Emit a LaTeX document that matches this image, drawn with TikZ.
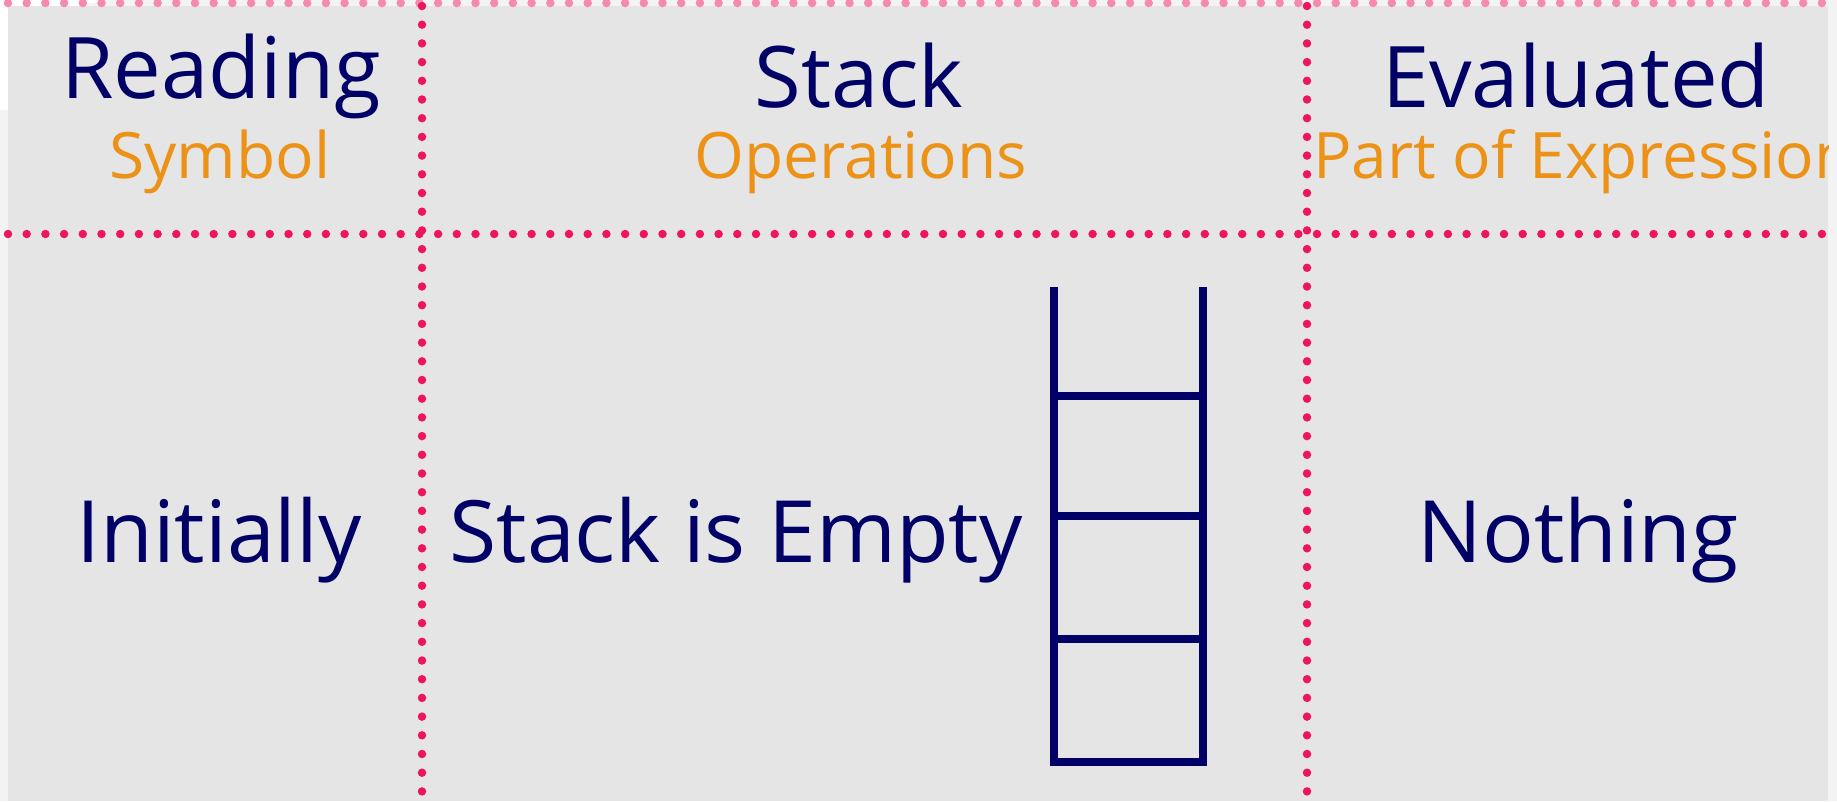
\documentclass[tikz,border=0pt]{standalone}
\usepackage{fontspec}
\setmainfont{Open Sans}
\definecolor{navy}{RGB}{0,0,102}
\definecolor{headorange}{RGB}{236,146,22}
\definecolor{dotpink}{RGB}{236,22,92}
\definecolor{panelgrey}{RGB}{229,229,229}
\definecolor{outergrey}{RGB}{243,243,243}
\tikzset{
  dotline/.style={draw=dotpink, line width=8.5pt, line cap=round, dash pattern=on 0pt off 18.7pt},
  headtxt/.style={text=navy, inner sep=0pt, anchor=base, font=\fontsize{85}{95}\selectfont},
  subtxt/.style={text=headorange, inner sep=0pt, anchor=base, font=\fontsize{64}{72}\selectfont},
  bodytxt/.style={text=navy, inner sep=0pt, anchor=base, font=\fontsize{86}{96}\selectfont},
  ladder/.style={draw=navy, line width=8.5pt, line join=miter, line cap=butt}
}
\begin{document}
\begin{tikzpicture}[x=1pt,y=-1pt]
\useasboundingbox (0,0) rectangle (1837,801);
\fill[outergrey] (0,0) rectangle (1837,801);
\fill[white] (0,0) -- (110,0) .. controls (60,6) and (20,30) .. (8,110) -- (0,110) -- cycle;
\fill[panelgrey] (8,6) rectangle (1828,801);
% grid lines
\coordinate (tl) at (8,3);
\coordinate (tr) at (1828,3);
\coordinate (ml) at (8,234);
\coordinate (mr) at (1828,234);
\coordinate (v1t) at (422,6);
\coordinate (v1b) at (422,801);
\coordinate (v2t) at (1307,6);
\coordinate (v2b) at (1307,801);
\draw[dotline, draw=dotpink!50] (tl) -- (tr);
\draw[dotline] (ml) -- (mr);
\draw[dotline] (v1t) -- (v1b);
\draw[dotline] (v2t) -- (v2b);
% headers
\node[headtxt] (reading) at (221,98) {Reading};
\node[subtxt] (symbol) at (220,178) {Symbol};
\node[headtxt] (stackh) at (859,107) {Stack};
\node[subtxt] (ops) at (861,178) {Operations};
\node[headtxt] (evaluated) at (1576,107) {Evaluated};
\begin{scope}
\clip (8,6) rectangle (1828,801);
\node[subtxt, anchor=base west] (partexpr) at (1313,178) {Part of Expression};
\end{scope}
% body
\node[bodytxt] (initially) at (219,562) {Initially};
\node[bodytxt] (stackempty) at (736,562) {Stack is Empty};
\node[bodytxt] (nothing) at (1578,562) {Nothing};
% ladder (empty stack)
\coordinate (lt) at (1054,287);
\coordinate (lb) at (1054,762);
\coordinate (rb) at (1203,762);
\coordinate (rt) at (1203,287);
\draw[ladder] (lt) -- (lb) -- (rb) -- (rt);
\draw[ladder] (1054,396) -- (1203,396);
\draw[ladder] (1054,516) -- (1203,516);
\draw[ladder] (1054,639) -- (1203,639);
\end{tikzpicture}
\end{document}
